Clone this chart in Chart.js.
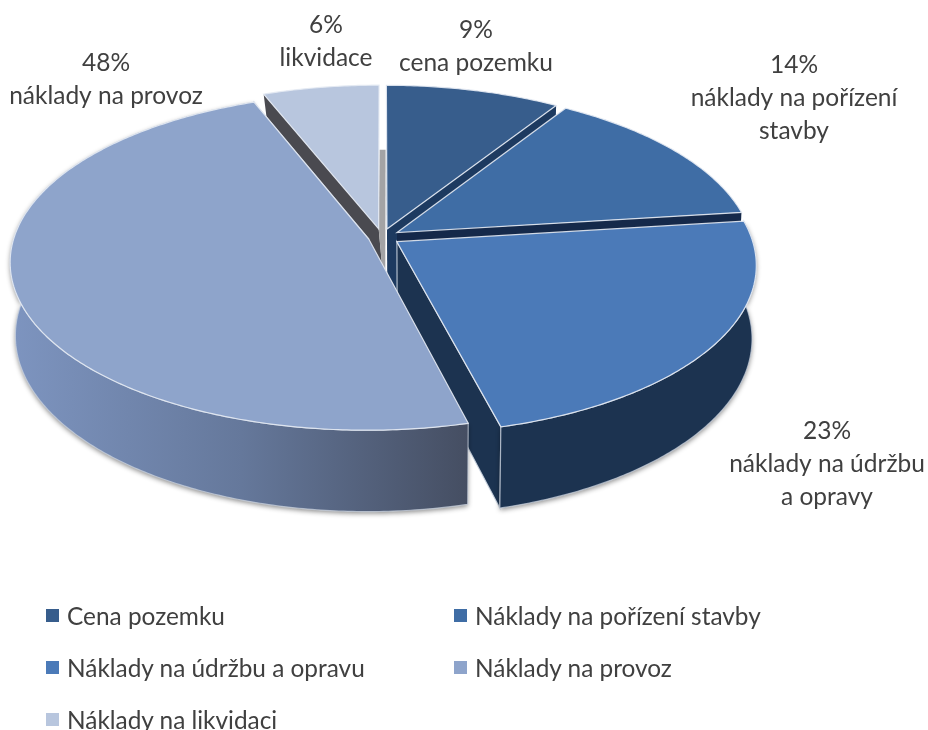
<!DOCTYPE html>
<html lang="cs">
<head>
<meta charset="utf-8">
<title>Struktura nákladů</title>
<script src="https://cdn.jsdelivr.net/npm/chart.js@4"></script>
<style>
    html, body { margin: 0; background: #fff; overflow: hidden; }
    #wrap { position: relative; width: 928px; height: 730px; }
    canvas { position: absolute; left: 0; top: 0; }
    .legend-item { position: absolute; font: 24.4px Lato, sans-serif; color: #404040; line-height: 28px; white-space: nowrap; }
    .legend-item i { position: absolute; left: 0; top: 7px; width: 13px; height: 13px; }
    .legend-item span { position: absolute; left: 21px; top: 0; }
</style>
</head>
<body>
<div id="wrap">
    <canvas id="pie" width="928" height="730"></canvas>
</div>
<script>
const categories = ["Cena pozemku", "Náklady na pořízení stavby", "Náklady na údržbu a opravu", "Náklady na provoz", "Náklady na likvidaci"];
const shares = [9, 14, 23, 48, 6];
const sliceLabels = [["cena pozemku"], ["náklady na pořízení", "stavby"], ["náklady na údržbu", "a opravy"], ["náklady na provoz"], ["likvidace"]];
const sliceColors = ["#375d8c", "#3f6da5", "#4b7ab8", "#8ea4cb", "#b8c6de"];

// wall colours per slice: leading cut, trailing cut
const startWalls = ["#1d3a60", "#15294a", "#1c3350", "#454e62", "#4a4a50"];
const endWalls = ["#1d3a60", "#15294a", "#1c3350", "#454e62", "#a3a3a5"];
const drawOrder = [4, 0, 1, 2, 3];

// perspective of the top and bottom faces of the disc
const topFace = { x0: 382, y0: 237, r: 354.5, a: 165, b: 0.134 };
const bottomFace = { x0: 382.5, y0: 309, r: 350, a: 173, b: 0.134 };

// centre of each text block, first line baseline
const labelSpots = [
    { x: 476, y: 38 },
    { x: 794, y: 73 },
    { x: 827, y: 439 },
    { x: 106, y: 71 },
    { x: 326, y: 33 }
];

function project(face, px, py, shift) {
    const k = 1 - face.b * py;
    return [face.x0 + (shift || 0) + face.r * px / k, face.y0 + face.a * py / k];
}

function arcPoints(face, slice, shift) {
    const pts = [];
    const steps = Math.max(2, Math.ceil((slice.end - slice.start) * 90));
    for (let i = 0; i <= steps; i++) {
        const ang = slice.start + (slice.end - slice.start) * i / steps;
        pts.push(project(face, slice.dx + Math.cos(ang), slice.dy + Math.sin(ang), shift));
    }
    return pts;
}

function fillPoly(ctx, pts, fill, stroke) {
    ctx.beginPath();
    pts.forEach((p, i) => i ? ctx.lineTo(p[0], p[1]) : ctx.moveTo(p[0], p[1]));
    ctx.closePath();
    ctx.fillStyle = fill;
    ctx.fill();
    if (stroke) {
        ctx.shadowColor = "transparent";
        ctx.strokeStyle = stroke;
        ctx.lineWidth = 1.2;
        ctx.stroke();
    }
}

// the arcs keep their angles and offsets from the controller, only the drawing is tilted
const tiltedPie = {
    id: "tiltedPie",
    beforeDatasetsDraw(chart) {
        const ctx = chart.ctx;
        const arcs = chart.getDatasetMeta(0).data;

        drawOrder.forEach(idx => {
            const arc = arcs[idx];
            const mid = (arc.startAngle + arc.endAngle) / 2;
            const off = arc.options.offset / arc.outerRadius;
            const slice = {
                start: arc.startAngle,
                end: arc.endAngle,
                dx: Math.cos(mid) * off,
                dy: Math.sin(mid) * off
            };
            const shift = idx === 4 ? 6 : 0;

            const topArc = arcPoints(topFace, slice);
            const botArc = arcPoints(bottomFace, slice, shift);
            const topApex = project(topFace, slice.dx, slice.dy);
            const botApex = project(bottomFace, slice.dx, slice.dy, shift);
            const topEnd = topArc[topArc.length - 1];
            const botEnd = botArc[botArc.length - 1];
            const frontSlice = idx === 2 || idx === 3;

            ctx.save();
            fillPoly(ctx, [topApex, topArc[0], botArc[0], botApex], startWalls[idx]);
            // the shifted wall of the last slice is a narrow strip that starts at the bottom face
            const endTop = shift ? [botEnd[0] - shift, botEnd[1]] : topEnd;
            fillPoly(ctx, [topApex, endTop, botEnd, botApex], endWalls[idx], frontSlice ? "rgba(205,214,226,0.85)" : null);

            // only the two front slices show their rim
            if (frontSlice) {
                let rimFill = "#1c3350";
                if (idx === 3) {
                    rimFill = ctx.createLinearGradient(15, 0, 468, 0);
                    rimFill.addColorStop(0, "#7d94bf");
                    rimFill.addColorStop(0.5, "#65789b");
                    rimFill.addColorStop(1, "#454e62");
                }
                ctx.shadowColor = "rgba(0,0,0,0.45)";
                ctx.shadowBlur = 5;
                ctx.shadowOffsetY = 2;
                fillPoly(ctx, topArc.concat(botArc.slice().reverse()), rimFill, "rgba(205,214,226,0.7)");
            }
            ctx.restore();

            fillPoly(ctx, [topApex].concat(topArc), sliceColors[idx], "rgba(228,234,243,0.9)");
        });
        return false;
    },
    afterDraw(chart) {
        const ctx = chart.ctx;
        ctx.save();
        ctx.font = "24.5px Lato, sans-serif";
        ctx.fillStyle = "#404040";
        ctx.textAlign = "center";
        shares.forEach((v, i) => {
            const spot = labelSpots[i];
            [v + "%"].concat(sliceLabels[i]).forEach((line, n) => {
                ctx.fillText(line, spot.x, spot.y + n * 33);
            });
        });
        ctx.restore();
    }
};

new Chart(document.getElementById("pie"), {
    type: "pie",
    data: {
        labels: categories,
        datasets: [{
            data: shares,
            backgroundColor: sliceColors,
            offset: [18, 18, 18, 14, 18],
            borderWidth: 0
        }]
    },
    options: {
        responsive: false,
        animation: false,
        events: [],
        plugins: {
            legend: { display: false },
            tooltip: { enabled: false }
        }
    },
    plugins: [tiltedPie]
});

// legend in two columns below the pie
const wrap = document.getElementById("wrap");
categories.forEach((name, i) => {
    const item = document.createElement("div");
    item.className = "legend-item";
    item.style.left = (i % 2 ? 454 : 46) + "px";
    item.style.top = (602 + 52 * Math.floor(i / 2)) + "px";
    item.innerHTML = `<i style="background:${sliceColors[i]}"></i><span>${name}</span>`;
    wrap.appendChild(item);
});
</script>
</body>
</html>
